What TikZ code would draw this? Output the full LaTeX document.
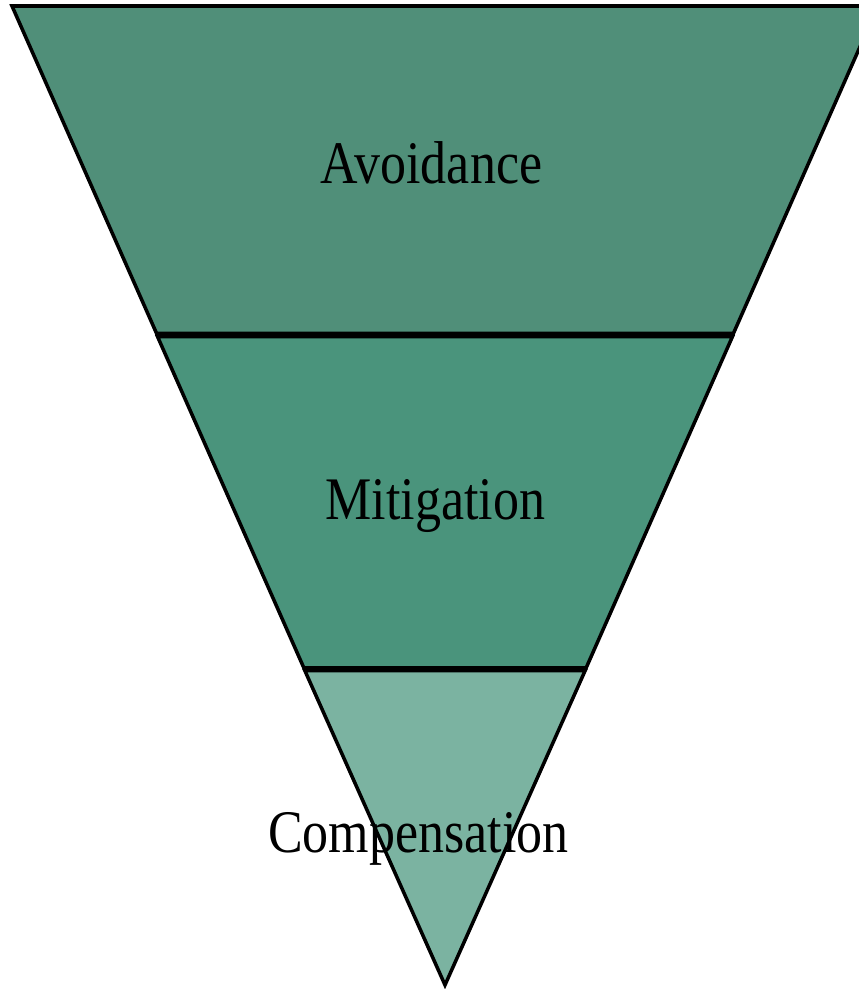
\documentclass[tikz,border=0pt]{standalone}
\usepackage{fontspec}
\setmainfont{Liberation Serif}
\usepackage{graphicx}

\definecolor{bandtop}{HTML}{508F79}
\definecolor{bandmid}{HTML}{4A947C}
\definecolor{bandlow}{HTML}{7BB3A1}

\newcommand{\bandlabel}[1]{\scalebox{0.86}[1]{\fontsize{17.2}{20}\selectfont #1}}

\begin{document}
\begin{tikzpicture}[band/.style={draw=black, line width=1pt, line join=miter}]
        \useasboundingbox (0,0) rectangle (8.59,9.89);
        \clip (0,0) rectangle (8.59,9.89);

        % Faixas do triangulo invertido
        \draw[band, fill=bandtop] (0.12,9.83) -- (8.78,9.83) -- (7.334,6.555) -- (1.566,6.555) -- cycle;
        \draw[band, fill=bandmid] (1.575,6.525) -- (7.325,6.525) -- (5.861,3.21) -- (3.039,3.21) -- cycle;
        \draw[band, fill=bandlow] (3.048,3.185) -- (5.852,3.185) -- (4.45,0.04) -- cycle;

        % Rotulos das faixas
        \node[anchor=base, inner sep=0pt] (avoid) at (4.315,8.06) {\bandlabel{Avoidance}};
        \node[anchor=base, inner sep=0pt] (mitig) at (4.355,4.70) {\bandlabel{Mitigation}};
        \node[anchor=base, inner sep=0pt] (comp) at (4.185,1.36) {\bandlabel{Compensation}};
      \end{tikzpicture}
\end{document}
